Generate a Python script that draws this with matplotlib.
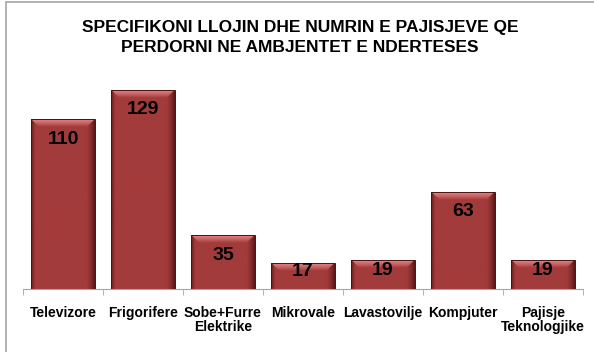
import numpy as np
import matplotlib
matplotlib.use("Agg")
from matplotlib import pyplot as plt
from matplotlib.patches import Rectangle, Polygon
from matplotlib.colors import to_rgb

plt.rcParams['font.family'] = ['Liberation Sans', 'DejaVu Sans']

categories = ['Televizore', 'Frigorifere', 'Sobe+Furre\nElektrike', 'Mikrovale',
              'Lavastovilje', 'Kompjuter', 'Pajisje\nTeknologjike']
counts = [110, 129, 35, 17, 19, 63, 19]
title = 'SPECIFIKONI LLOJIN DHE NUMRIN E PAJISJEVE QE\nPERDORNI NE AMBJENTET E NDERTESES'

fig = plt.figure(figsize=(5.94, 3.52), dpi=100)
ax = fig.add_axes([23 / 594, 63 / 352, 560 / 594, 216 / 352])

# outer chart frame
fig.add_artist(Rectangle((6 / 594, -0.1), 1.2, 1.1 - 2 / 352, transform=fig.transFigure,
                         fill=False, edgecolor='#a6a6a6', linewidth=1.2))

base = np.array(to_rgb('#a23b3b'))
dark = np.array(to_rgb('#5a1616'))
light = np.array(to_rgb('#e08080'))
width = 0.79

ax.set_xlim(-0.5, len(categories) - 0.5)
ax.set_ylim(0, 140)
px_per_unit = 216 / 140
px_per_x = 80.0

# horizontal shading profile across each bar: dark rims, flat middle
u = np.linspace(0, 1, 80)
rim = np.clip(np.minimum(u / 0.06, (1 - u) / 0.12), 0, 1) ** 0.7
col = dark[None, :] + (base - dark)[None, :] * rim[:, None]

for i, v in enumerate(counts):
    x0, x1 = i - width / 2, i + width / 2
    clip = Rectangle((x0, 0), width, v, transform=ax.transData)
    img = np.tile(col[None, :, :], (2, 1, 1))
    im = ax.imshow(img, extent=(x0, x1, 0, v), aspect='auto', zorder=2,
                   interpolation='bilinear')
    im.set_clip_path(clip)
    # top bevel as a trapezoid with a vertical fade
    cap = 8 / px_per_unit
    d = 8 / px_per_x
    vgrad = np.linspace(0, 1, 16) ** 1.3
    capimg = light[None, None, :] * (1 - vgrad[:, None, None]) + col[None, :, :] * vgrad[:, None, None]
    im2 = ax.imshow(capimg, extent=(x0, x1, v - cap, v), aspect='auto', zorder=3,
                    interpolation='bilinear', origin='upper')
    trap = Polygon([(x0, v), (x1, v), (x1 - d, v - cap), (x0 + d, v - cap)],
                   closed=True, transform=ax.transData)
    im2.set_clip_path(trap)
    ax.add_patch(Rectangle((x0, 0), width, v, fill=False, edgecolor='#4a1212',
                           linewidth=0.7, zorder=4))
    hpx = v * px_per_unit
    off = min(20, hpx / 2 - 4)
    ax.annotate(str(v), (i, v), xytext=(0, -off), textcoords='offset pixels',
                ha='center', va='center', fontsize=14, fontweight='bold',
                color='black', zorder=5)

for s in ['top', 'right', 'left']:
    ax.spines[s].set_visible(False)
ax.spines['bottom'].set_color('#a6a6a6')
ax.set_yticks([])
ax.set_xticks(range(len(categories)))
ax.set_xticklabels(categories, fontsize=10, fontweight='bold', linespacing=1.0)
ax.tick_params(axis='x', which='major', length=0, pad=12)
ax.set_xticks(np.arange(-0.5, len(categories)), minor=True)
ax.tick_params(axis='x', which='minor', length=4, color='#a6a6a6')

fig.text(0.5 + 3 / 594, 1 - 37.5 / 352, title, ha='center', va='center', fontsize=12.5,
         fontweight='bold', linespacing=1.45)

fig.savefig('out.png', dpi=100)
